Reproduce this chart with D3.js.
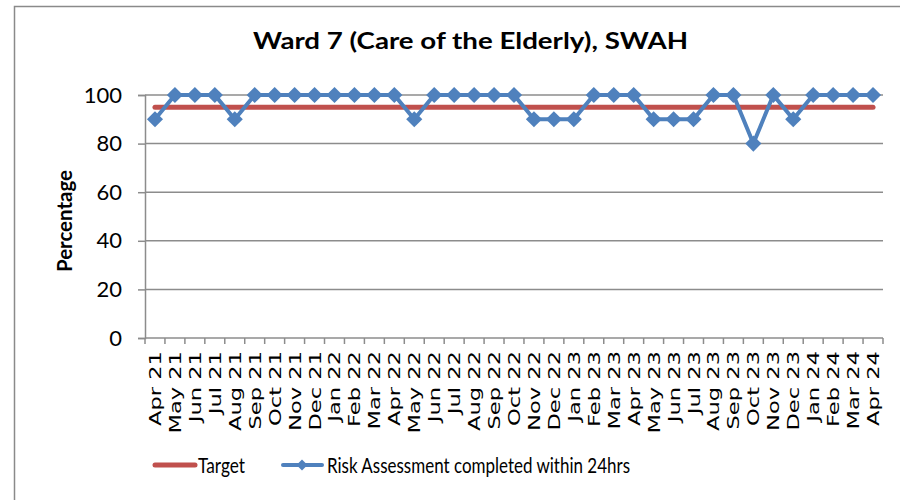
<!DOCTYPE html>
<html>
<head>
<meta charset="utf-8">
<script src="https://cdn.jsdelivr.net/npm/d3@7"></script>
<style>
  body { margin: 0; background: #fff; }
  svg { display: block; }
</style>
</head>
<body>
<div id="chart"></div>
<script>
const months = [
    'Apr 21', 'May 21', 'Jun 21', 'Jul 21', 'Aug 21', 'Sep 21', 'Oct 21', 'Nov 21', 'Dec 21',
    'Jan 22', 'Feb 22', 'Mar 22', 'Apr 22', 'May 22', 'Jun 22', 'Jul 22', 'Aug 22', 'Sep 22',
    'Oct 22', 'Nov 22', 'Dec 22', 'Jan 23', 'Feb 23', 'Mar 23', 'Apr 23', 'May 23', 'Jun 23',
    'Jul 23', 'Aug 23', 'Sep 23', 'Oct 23', 'Nov 23', 'Dec 23', 'Jan 24', 'Feb 24', 'Mar 24', 'Apr 24'
];

const riskAssessment = [
    90, 100, 100, 100, 90, 100, 100, 100, 100,
    100, 100, 100, 100, 90, 100, 100, 100, 100,
    100, 90, 90, 90, 100, 100, 100, 90, 90,
    90, 100, 100, 80, 100, 90, 100, 100, 100, 100
];

const target = months.map(() => 95);

const yTicks = [0, 20, 40, 60, 80, 100];

const width = 900, height = 500;
const margin = {top: 95, right: 17, bottom: 162, left: 145};

const svg = d3.select('#chart')
    .append('svg')
    .attr('width', width)
    .attr('height', height);

// outer chart border (right / bottom fall off the picture)
svg.append('rect')
    .attr('x', 14.5)
    .attr('y', 6.5)
    .attr('width', 900)
    .attr('height', 520)
    .attr('fill', 'none')
    .attr('stroke', '#8a8a8a')
    .attr('stroke-width', 1.5);

const x = d3.scaleBand()
    .domain(months)
    .range([margin.left, width - margin.right]);

const y = d3.scaleLinear()
    .domain([0, 100])
    .range([height - margin.bottom, margin.top]);

const cx = d => x(d) + x.bandwidth() / 2;

// gridlines
svg.append('g')
    .selectAll('line')
    .data(yTicks.filter(d => d > 0))
    .enter()
    .append('line')
    .attr('x1', margin.left)
    .attr('x2', width - margin.right)
    .attr('y1', d => y(d))
    .attr('y2', d => y(d))
    .attr('stroke', '#8c8c8c')
    .attr('stroke-width', 1.5);

// y axis
const yAxis = svg.append('g')
    .attr('transform', `translate(${margin.left}, 0)`)
    .call(d3.axisLeft(y).tickValues(yTicks).tickSize(7).tickPadding(16));

yAxis.select('.domain').attr('stroke', '#8c8c8c').attr('stroke-width', 1.5);
yAxis.selectAll('.tick line').attr('stroke', '#8c8c8c').attr('stroke-width', 1.5);
yAxis.selectAll('.tick text')
    .attr('font-family', 'Lato, sans-serif')
    .attr('font-size', 22)
    .attr('fill', '#000');

// x axis, ticks sit between the categories
const xAxis = svg.append('g')
    .attr('transform', `translate(0, ${y(0)})`);

xAxis.append('line')
    .attr('x1', margin.left)
    .attr('x2', width - margin.right)
    .attr('stroke', '#8c8c8c')
    .attr('stroke-width', 1.5);

xAxis.selectAll('.tk')
    .data(months.concat(['end']))
    .enter()
    .append('line')
    .attr('class', 'tk')
    .attr('x1', (d, i) => i < months.length ? x(d) : x(months[months.length - 1]) + x.bandwidth())
    .attr('x2', (d, i) => i < months.length ? x(d) : x(months[months.length - 1]) + x.bandwidth())
    .attr('y1', 0)
    .attr('y2', 6)
    .attr('stroke', '#8c8c8c')
    .attr('stroke-width', 1.5);

xAxis.selectAll('.lbl')
    .data(months)
    .enter()
    .append('text')
    .attr('class', 'lbl')
    .attr('transform', d => `translate(${cx(d) + 6}, 13) rotate(-90) scale(1.37, 1)`)
    .attr('text-anchor', 'end')
    .attr('font-family', 'DejaVu Sans, sans-serif')
    .attr('font-size', 16.5)
    .text(d => d);

// target line
const line = d3.line()
    .x(d => cx(d.month))
    .y(d => y(d.value));

svg.append('path')
    .datum(months.map((m, i) => ({month: m, value: target[i]})))
    .attr('d', line)
    .attr('fill', 'none')
    .attr('stroke', '#C0504D')
    .attr('stroke-width', 5)
    .attr('stroke-linecap', 'round');

// risk assessment series
const riskData = months.map((m, i) => ({month: m, value: riskAssessment[i]}));

svg.append('path')
    .datum(riskData)
    .attr('d', line)
    .attr('fill', 'none')
    .attr('stroke', '#4F81BD')
    .attr('stroke-width', 4)
    .attr('stroke-linejoin', 'round');

const diamond = d3.symbol(d3.symbolSquare, 130);

svg.append('g')
    .selectAll('path')
    .data(riskData)
    .enter()
    .append('path')
    .attr('d', diamond)
    .attr('transform', d => `translate(${cx(d.month)}, ${y(d.value)}) rotate(45)`)
    .attr('fill', '#4F81BD');

// title
svg.append('text')
    .attr('x', 253)
    .attr('y', 49)
    .attr('font-family', 'Lato, sans-serif')
    .attr('font-weight', 'bold')
    .attr('font-size', 23)
    .attr('textLength', 435)
    .attr('lengthAdjust', 'spacingAndGlyphs')
    .text('Ward 7 (Care of the Elderly), SWAH');

// y axis title
svg.append('text')
    .attr('transform', 'translate(72, 221) rotate(-90)')
    .attr('text-anchor', 'middle')
    .attr('font-family', 'Lato, sans-serif')
    .attr('font-weight', 'bold')
    .attr('font-size', 20)
    .attr('textLength', 102)
    .attr('lengthAdjust', 'spacingAndGlyphs')
    .text('Percentage');

// legend
const legend = svg.append('g').attr('transform', 'translate(0, 465)');

legend.append('line')
    .attr('x1', 155).attr('x2', 195)
    .attr('stroke', '#C0504D')
    .attr('stroke-width', 5)
    .attr('stroke-linecap', 'round');

legend.append('text')
    .attr('x', 198)
    .attr('y', 7.5)
    .attr('font-family', 'Lato, sans-serif')
    .attr('font-size', 22)
    .attr('textLength', 47)
    .attr('lengthAdjust', 'spacingAndGlyphs')
    .text('Target');

legend.append('line')
    .attr('x1', 283).attr('x2', 322)
    .attr('stroke', '#4F81BD')
    .attr('stroke-width', 4)
    .attr('stroke-linecap', 'round');

legend.append('path')
    .attr('d', d3.symbol(d3.symbolSquare, 60))
    .attr('transform', 'translate(302, 0) rotate(45)')
    .attr('fill', '#4F81BD');

legend.append('text')
    .attr('x', 327)
    .attr('y', 7.5)
    .attr('font-family', 'Lato, sans-serif')
    .attr('font-size', 22)
    .attr('textLength', 303)
    .attr('lengthAdjust', 'spacingAndGlyphs')
    .text('Risk Assessment completed within 24hrs');
</script>
</body>
</html>
